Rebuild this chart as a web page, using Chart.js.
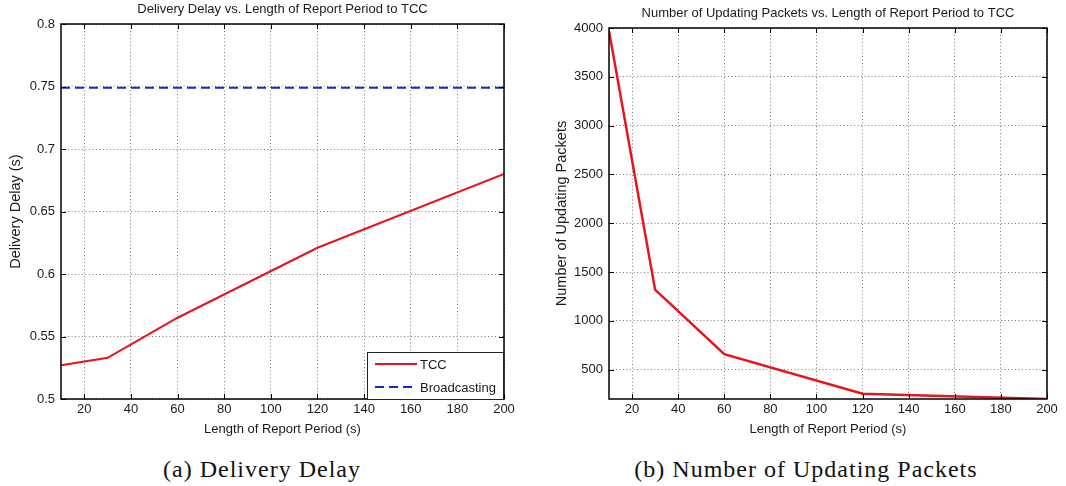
<!DOCTYPE html>
<html lang="en">
<head>
<meta charset="UTF-8">
<title>Delivery Delay and Updating Packets vs. Report Period</title>
<script src="https://cdn.jsdelivr.net/npm/chart.js"></script>
<style>
  body { margin: 0; background: #fff; width: 1066px; height: 486px; position: relative; overflow: hidden; }
  canvas { position: absolute; top: 0; }
  #delayChart { left: 0; }
  #packetChart { left: 530px; }
  .caption { position: absolute; top: 457px; line-height: 24px; font-family: "Liberation Serif", "Times New Roman", serif;
             font-size: 24px; letter-spacing: 1px; color: #111; transform: translateX(-50%); white-space: nowrap; }
</style>
</head>
<body>
<canvas id="delayChart" width="530" height="440"></canvas>
<canvas id="packetChart" width="536" height="440"></canvas>
<div class="caption" style="left:262px">(a) Delivery Delay</div>
<div class="caption" style="left:806px">(b) Number of Updating Packets</div>

<script>
// report period lengths (s)
const periods = [10, 30, 60, 120, 200];
const xTicks = [20, 40, 60, 80, 100, 120, 140, 160, 180, 200];

// (a) delivery delay (s)
const tccDelay = [0.527, 0.533, 0.565, 0.621, 0.680];
const broadcastDelay = [0.749, 0.749, 0.749, 0.749, 0.749];
const delayTicks = [0.5, 0.55, 0.6, 0.65, 0.7, 0.75, 0.8];

// (b) number of updating packets
const tccPackets = [3970, 1320, 660, 255, 200];
const packetTicks = [500, 1000, 1500, 2000, 2500, 3000, 3500, 4000];

const FONT = '"Liberation Sans", Arial, sans-serif';
const TEXT = '#1a1a1a';

const pts = (ys) => periods.map((x, i) => ({ x: x, y: ys[i] }));

// matlab style box, inward ticks, title and legend
const matlabFrame = {
    id: 'matlabFrame',
    afterDraw(chart, args, opts) {
        const { ctx, chartArea: { left, right, top, bottom }, scales: { x, y } } = chart;
        ctx.save();
        ctx.strokeStyle = '#000';
        ctx.lineWidth = 1;
        ctx.beginPath();
        x.ticks.forEach(t => {
            const px = Math.round(x.getPixelForValue(t.value)) + 0.5;
            ctx.moveTo(px, bottom); ctx.lineTo(px, bottom - 5);
            ctx.moveTo(px, top); ctx.lineTo(px, top + 5);
        });
        y.ticks.forEach(t => {
            const py = Math.round(y.getPixelForValue(t.value)) + 0.5;
            ctx.moveTo(left, py); ctx.lineTo(left + 5, py);
            ctx.moveTo(right, py); ctx.lineTo(right - 5, py);
        });
        ctx.stroke();
        ctx.lineWidth = 1.5;
        ctx.strokeRect(left, top, right - left, bottom - top);

        ctx.fillStyle = TEXT;
        ctx.font = '13px ' + FONT;
        ctx.textAlign = 'center';
        ctx.textBaseline = 'alphabetic';
        ctx.fillText(opts.title, (left + right) / 2, top - 11);

        if (opts.legend) {
            const w = 137, h = 47;
            const bx = right - w, by = bottom - h;
            ctx.fillStyle = '#fff';
            ctx.fillRect(bx, by, w, h);
            ctx.lineWidth = 1;
            ctx.strokeStyle = '#222';
            ctx.strokeRect(bx + 0.5, by + 0.5, w - 1, h);
            chart.data.datasets.forEach((ds, i) => {
                const ly = by + 12 + i * 23;
                ctx.strokeStyle = ds.borderColor;
                ctx.lineWidth = ds.borderWidth;
                ctx.setLineDash(ds.borderDash || []);
                ctx.beginPath();
                ctx.moveTo(bx + 8, ly); ctx.lineTo(bx + 50, ly);
                ctx.stroke();
                ctx.setLineDash([]);
                ctx.fillStyle = TEXT;
                ctx.textAlign = 'left';
                ctx.textBaseline = 'middle';
                ctx.fillText(ds.label, bx + 53, ly + 1);
            });
        }
        ctx.restore();
    }
};

function axes(yMin, yMax, yTickList, yTitle, yWidth, yTitlePad) {
    const grid = { color: '#7c7c7c', lineWidth: 1, drawTicks: false };
    const border = { display: false, dash: [1, 2.5] };
    return {
        x: {
            type: 'linear', min: 10, max: 200,
            afterBuildTicks: s => { s.ticks = xTicks.map(v => ({ value: v })); },
            afterFit: s => { s.height = 41; },
            grid: grid, border: border,
            ticks: { color: TEXT, font: { family: FONT, size: 13 }, padding: 3, maxRotation: 0 },
            title: { display: true, text: 'Length of Report Period (s)', color: TEXT,
                     font: { family: FONT, size: 13 }, padding: { top: 0, bottom: 3 } }
        },
        y: {
            type: 'linear', min: yMin, max: yMax,
            afterBuildTicks: s => { s.ticks = yTickList.map(v => ({ value: v })); },
            afterFit: s => { s.width = yWidth; },
            grid: grid, border: border,
            ticks: { color: TEXT, font: { family: FONT, size: 13 }, padding: 6, callback: v => String(v) },
            title: { display: true, text: yTitle, color: TEXT,
                     font: { family: FONT, size: 14.5 }, padding: { top: yTitlePad, bottom: 0 } }
        }
    };
}

new Chart(document.getElementById('delayChart'), {
    type: 'line',
    data: {
        datasets: [
            { label: 'TCC', data: pts(tccDelay), borderColor: '#e8141c', borderWidth: 2, pointRadius: 0, tension: 0 },
            { label: 'Broadcasting', data: pts(broadcastDelay), borderColor: '#1428c8', borderWidth: 2,
              borderDash: [9, 5], pointRadius: 0, tension: 0 }
        ]
    },
    options: {
        responsive: false,
        animation: false,
        layout: { padding: { left: 0, right: 26, top: 24, bottom: 0 } },
        scales: axes(0.5, 0.8, delayTicks, 'Delivery Delay (s)', 61, 7.5),
        plugins: {
            legend: { display: false },
            tooltip: { enabled: false },
            matlabFrame: { title: 'Delivery Delay vs. Length of Report Period to TCC', legend: true }
        }
    },
    plugins: [matlabFrame]
});

new Chart(document.getElementById('packetChart'), {
    type: 'line',
    data: {
        datasets: [
            { label: 'TCC', data: pts(tccPackets), borderColor: '#e8141c', borderWidth: 2.5, pointRadius: 0, tension: 0 }
        ]
    },
    options: {
        responsive: false,
        animation: false,
        layout: { padding: { left: 0, right: 19, top: 28, bottom: 0 } },
        scales: axes(200, 4000, packetTicks, 'Number of Updating Packets', 79, 23),
        plugins: {
            legend: { display: false },
            tooltip: { enabled: false },
            matlabFrame: { title: 'Number of Updating Packets vs. Length of Report Period to TCC', legend: false }
        }
    },
    plugins: [matlabFrame]
});
</script>
</body>
</html>
